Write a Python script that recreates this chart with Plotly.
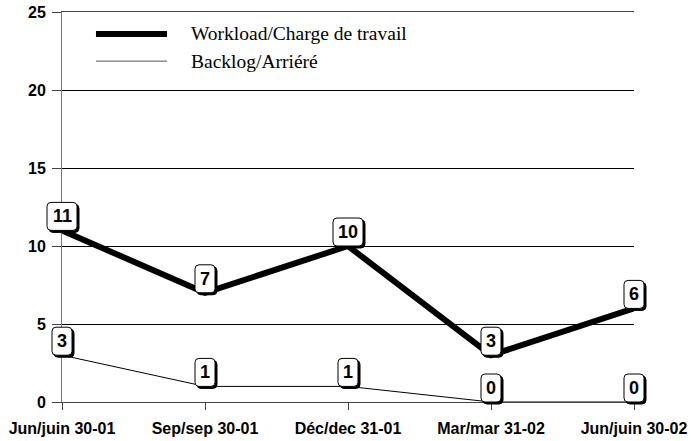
import plotly.graph_objects as go

categories = ["Jun/juin 30-01", "Sep/sep 30-01", "Déc/dec 31-01", "Mar/mar 31-02", "Jun/juin 30-02"]
workload = [11, 7, 10, 3, 6]
backlog = [3, 1, 1, 0, 0]
y_ticks = [0, 5, 10, 15, 20, 25]
y_range = [0, 25]
series_names = ["Workload/Charge de travail", "Backlog/Arriéré"]

x_range = [0, len(categories) - 1]

fig = go.Figure()
fig.add_trace(go.Scatter(x=categories, y=backlog, mode="lines",
                         line=dict(color="black", width=1), cliponaxis=False,
                         showlegend=False, hoverinfo="skip"))
fig.add_trace(go.Scatter(x=categories, y=workload, mode="lines",
                         line=dict(color="black", width=6, shape="linear"), cliponaxis=False,
                         showlegend=False, hoverinfo="skip"))


def rounded_rect(x0, y0, x1, y1, r):
    return (f"M {x0+r},{y0} L {x1-r},{y0} Q {x1},{y0} {x1},{y0+r} "
            f"L {x1},{y1-r} Q {x1},{y1} {x1-r},{y1} L {x0+r},{y1} "
            f"Q {x0},{y1} {x0},{y1-r} L {x0},{y0+r} Q {x0},{y0} {x0+r},{y0} Z")


def xfrac(i):
    return (i - x_range[0]) / (x_range[1] - x_range[0])


def yfrac(v):
    return (v - y_range[0]) / (y_range[1] - y_range[0])


label_font = dict(family="Liberation Sans, Arial, sans-serif", size=18, color="black",
                  weight="bold")
for series in (workload, backlog):
    for i, (c, v) in enumerate(zip(categories, series)):
        txt = str(v)
        half = 5 * len(txt) + 5
        h = 28
        # shadow
        fig.add_shape(type="path", xref="paper", yref="paper", xsizemode="pixel",
                      ysizemode="pixel", xanchor=xfrac(i), yanchor=yfrac(v), layer="above",
                      path=rounded_rect(-half + 2, -2, half + 2, h - 2, 4),
                      fillcolor="black", line=dict(color="black", width=1))
        fig.add_shape(type="path", xref="paper", yref="paper", xsizemode="pixel",
                      ysizemode="pixel", xanchor=xfrac(i), yanchor=yfrac(v), layer="above",
                      path=rounded_rect(-half, 0, half, h, 4),
                      fillcolor="white", line=dict(color="black", width=1))
        fig.add_annotation(x=c, y=v, text=txt, showarrow=False,
                           yanchor="middle", xanchor="center", yshift=h / 2,
                           font=label_font)

# manual legend
fig.add_shape(type="line", xref="paper", yref="paper", x0=0.0594, x1=0.1836,
              y0=0.9436, y1=0.9436, line=dict(color="black", width=6))
fig.add_shape(type="line", xref="paper", yref="paper", x0=0.0594, x1=0.1836,
              y0=0.874, y1=0.874, line=dict(color="#555555", width=1))
legend_font = dict(family="Liberation Serif, Times New Roman, serif", size=19.5, color="black")
fig.add_annotation(xref="paper", yref="paper", x=0.2225, y=0.9436, text=series_names[0],
                   showarrow=False, xanchor="left", yanchor="middle", font=legend_font)
fig.add_annotation(xref="paper", yref="paper", x=0.2225, y=0.874, text=series_names[1],
                   showarrow=False, xanchor="left", yanchor="middle", font=legend_font)

fig.update_layout(
    width=691, height=441,
    margin=dict(l=62, r=57, t=12, b=39),
    plot_bgcolor="white", paper_bgcolor="white",
    showlegend=False,
)
fig.update_xaxes(type="category", range=x_range, showgrid=False, showline=True,
                 mirror=True, linecolor="#444444", linewidth=1, ticks="outside", ticklen=7,
                 tickcolor="#444444", zeroline=False, automargin=False,
                 ticklabelstandoff=5,
                 tickfont=dict(family="Liberation Sans, Arial, sans-serif", size=16,
                               color="black", weight="bold"),
                 ticklabeloverflow="allow")
fig.update_yaxes(range=y_range, tickvals=y_ticks, showgrid=True, gridcolor="black",
                 gridwidth=1, showline=True, linecolor="#777777", linewidth=1,
                 ticks="outside", ticklen=9, tickcolor="#444444", zeroline=False,
                 automargin=False, ticklabelstandoff=3,
                 tickfont=dict(family="Liberation Sans, Arial, sans-serif", size=16,
                               color="black", weight="bold"),
                 ticklabeloverflow="allow")

fig.write_html("out.html", config={"displayModeBar": False},
               post_script="document.body.style.margin='0';document.body.style.padding='0';")
